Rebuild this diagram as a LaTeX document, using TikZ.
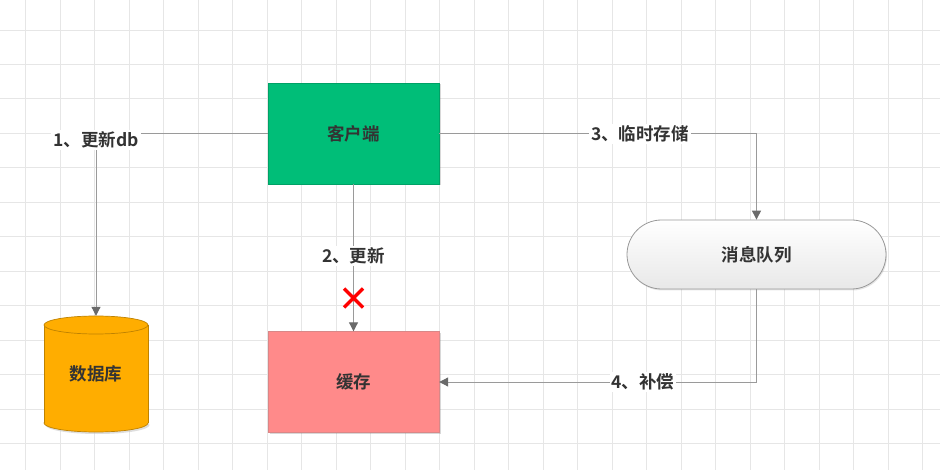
\documentclass[tikz,border=0pt]{standalone}
\usepackage{fontspec}
\setmainfont{Noto Sans CJK SC}
\newfontfamily\cjk{Noto Sans CJK SC}[BoldFont={Noto Sans CJK SC Bold}]
\usetikzlibrary{arrows.meta,shadows}
\definecolor{gridc}{HTML}{E6E6E6}
\definecolor{linec}{HTML}{9A9A9A}
\definecolor{tipc}{HTML}{6A6A6A}
\definecolor{txt}{HTML}{333333}
\definecolor{greenc}{HTML}{00BE78}
\definecolor{pinkc}{HTML}{FF8A8A}
\definecolor{orangec}{HTML}{FFAD00}
\begin{document}
\begin{tikzpicture}[x=1pt,y=-1pt,
  txtstyle/.style={font=\cjk\fontsize{17.5}{20}\selectfont\bfseries, text=txt},
  boxstyle/.style={rectangle, minimum width=171pt, minimum height=101pt, inner sep=0pt, txtstyle,
    drop shadow={shadow xshift=1.5pt, shadow yshift=-1.5pt, opacity=0.25, fill=black!60}},
  conn/.style={draw=linec, line width=1pt},
  arr/.style={conn, -{Triangle[width=9pt,length=9pt,color=tipc,fill=tipc]}},
  lbl/.style={txtstyle, fill=white, inner sep=2pt}
]
\useasboundingbox (0,0) rectangle (940,470);
\fill[white] (0,0) rectangle (940,470);
% grid
\foreach \i in {0,...,26} {\draw[gridc, line width=0.9pt] ({25.7+34.5*\i},0) -- ({25.7+34.5*\i},470);}
\foreach \j in {-1,...,13} {\draw[gridc, line width=0.9pt] (0,{30+34.45*\j}) -- (940,{30+34.45*\j});}

% nodes
\node[boxstyle, fill=greenc, draw=greenc!85!black] (client) at (353.5,133.5) {客户端};
\node[boxstyle, fill=pinkc, draw=pinkc!70!gray] (cache) at (353.5,382) {缓存};
\node[rectangle, rounded corners=34.5pt, minimum width=259pt, minimum height=69pt, inner sep=0pt,
  top color=white, bottom color=black!9, draw=black!40, line width=0.8pt, txtstyle,
  drop shadow={shadow xshift=1pt, shadow yshift=-1.5pt, opacity=0.2, fill=black!50}] (mq) at (756.5,254.5) {消息队列};

% database cylinder
\fill[black!25, opacity=0.5] (97.5,425) ellipse (52pt and 9pt);
\filldraw[fill=orangec, draw=orangec!75!black, line width=0.7pt] (96,423) ellipse (52pt and 9pt);
\fill[orangec] (44,325) rectangle (148,423);
\draw[orangec!75!black, line width=0.7pt] (44,325) -- (44,423) (148,325) -- (148,423);
\filldraw[fill=orangec, draw=orangec!75!black, line width=0.7pt] (96,325) ellipse (52pt and 9pt);
\node[rectangle, minimum width=104pt, minimum height=116pt, inner sep=0pt, txtstyle] (db) at (96,374) {数据库};

% connectors
\coordinate (c1) at (db.north |- client.west);
\draw[arr] (client.west) -- (c1) -- (db.north);
\node[lbl] (l1) at (96,140) {1、更新db};

\draw[arr] (client.south) -- (cache.north);
\node[lbl] (l2) at (353.5,256) {2、更新};
\coordinate (xc) at (353.5,298);
\draw[red, line width=3.5pt] ([shift={(-9.5pt,-9.5pt)}]xc) -- ([shift={(9.5pt,9.5pt)}]xc)
  ([shift={(-9.5pt,9.5pt)}]xc) -- ([shift={(9.5pt,-9.5pt)}]xc);

\coordinate (c3) at (mq.north |- client.east);
\draw[arr] (client.east) -- (c3) -- (mq.north);
\node[lbl] (l3) at (640,134) {3、临时存储};

\coordinate (c4) at (mq.south |- cache.east);
\draw[arr] (mq.south) -- (c4) -- (cache.east);
\node[lbl] (l4) at (643,382) {4、补偿};
\end{tikzpicture}
\end{document}
